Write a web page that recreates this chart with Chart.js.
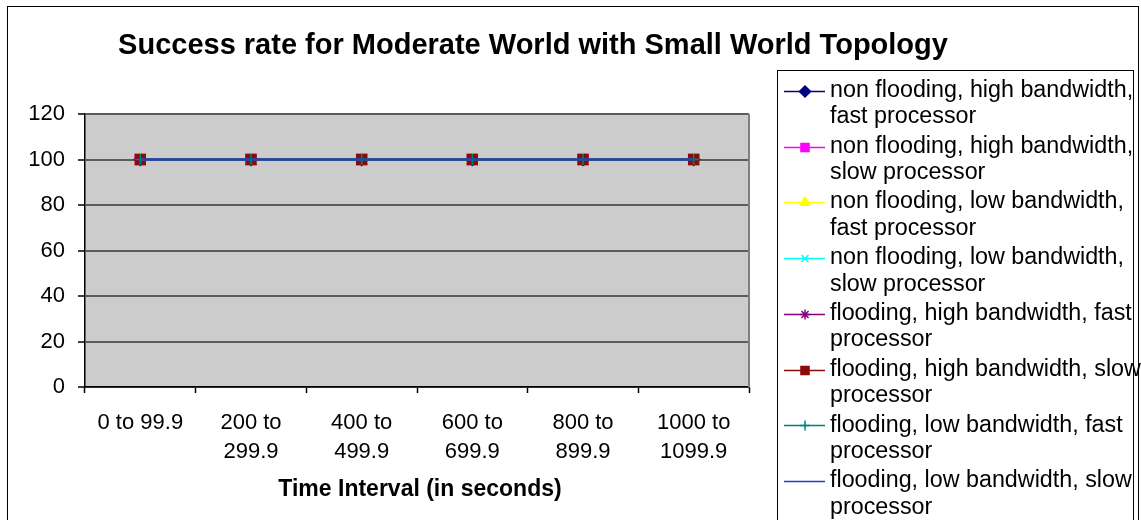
<!DOCTYPE html>
<html>
<head>
<meta charset="utf-8">
<script src="https://cdn.jsdelivr.net/npm/chart.js@4/dist/chart.umd.min.js"></script>
<style>
  html, body { margin: 0; padding: 0; background: #ffffff; }
  #c { display: block; }
</style>
</head>
<body>
<canvas id="c" width="1141" height="520"></canvas>
<script>
// Time intervals (category axis), split into display lines
const timeIntervals = [
  ["0 to 99.9"],
  ["200 to", "299.9"],
  ["400 to", "499.9"],
  ["600 to", "699.9"],
  ["800 to", "899.9"],
  ["1000 to", "1099.9"]
];

// Series names, split into the two lines shown in the legend
const seriesNames = [
  ["non flooding, high bandwidth,", "fast processor"],
  ["non flooding, high bandwidth,", "slow processor"],
  ["non flooding, low bandwidth,", "fast processor"],
  ["non flooding, low bandwidth,", "slow processor"],
  ["flooding, high bandwidth, fast", "processor"],
  ["flooding, high bandwidth, slow", "processor"],
  ["flooding, low bandwidth, fast", "processor"],
  ["flooding, low bandwidth, slow", "processor"]
];

// Success rate (%) per interval
const nonFloodHighBwFast = [100, 100, 100, 100, 100, 100];
const nonFloodHighBwSlow = [100, 100, 100, 100, 100, 100];
const nonFloodLowBwFast  = [100, 100, 100, 100, 100, 100];
const nonFloodLowBwSlow  = [100, 100, 100, 100, 100, 100];
const floodHighBwFast    = [100, 100, 100, 100, 100, 100];
const floodHighBwSlow    = [100, 100, 100, 100, 100, 100];
const floodLowBwFast     = [100, 100, 100, 100, 100, 100];
const floodLowBwSlow     = [100, 100, 100, 100, 100, 100];

// Y axis tick values
const yTicks = [0, 20, 40, 60, 80, 100, 120];

const seriesValues = [
  nonFloodHighBwFast, nonFloodHighBwSlow, nonFloodLowBwFast, nonFloodLowBwSlow,
  floodHighBwFast, floodHighBwSlow, floodLowBwFast, floodLowBwSlow
];

// line colour, marker shape, marker radius in the plot / in the legend
const seriesStyles = [
  { color: "#000080", point: "rectRot",  radius: 6,   legendRadius: 5.5, fill: "#000080" },
  { color: "#ff00ff", point: "rect",     radius: 7,   legendRadius: 5.7, fill: "#ff00ff" },
  { color: "#ffff00", point: "triangle", radius: 6,   legendRadius: 5.5, fill: "#ffff00" },
  { color: "#00ffff", point: "crossRot", radius: 5.5, legendRadius: 5,   fill: "#00ffff" },
  { color: "#800080", point: "star",     radius: 5.5, legendRadius: 5,   fill: "#800080" },
  { color: "#8b0a0a", point: "rect",     radius: 7,   legendRadius: 5.7, fill: "#8b0a0a" },
  { color: "#008080", point: "cross",    radius: 5.5, legendRadius: 5,   fill: "#008080" },
  { color: "#1f3fd0", point: false,      radius: 0,   legendRadius: 0,   fill: "#1f3fd0" }
];

const FONT = '"Liberation Sans", Arial, sans-serif';
const N = seriesValues.length;

const datasets = seriesValues.map((vals, i) => {
  const s = seriesStyles[i];
  return {
    label: seriesNames[i].join(" "),
    data: vals,
    borderColor: s.color,
    backgroundColor: s.fill,
    borderWidth: 2,
    pointStyle: s.point,
    pointRadius: s.radius,
    pointHoverRadius: s.radius,
    pointBorderColor: s.color,
    pointBackgroundColor: s.fill,
    pointBorderWidth: 1.5,
    tension: 0,
    fill: false,
    order: N - 1 - i   // later series are painted over earlier ones
  };
});

const PLOT = { left: 85, right: 749, top: 114, bottom: 387 };

const decorations = {
  id: "decorations",
  beforeDraw(chart) {
    const { ctx, chartArea: a } = chart;
    ctx.save();
    ctx.fillStyle = "#ffffff";
    ctx.fillRect(0, 0, chart.width, chart.height);
    ctx.fillStyle = "#cccccc";
    ctx.fillRect(a.left, a.top, a.right - a.left, a.bottom - a.top);
    ctx.restore();
  },
  afterDraw(chart) {
    const { ctx, chartArea: a } = chart;
    ctx.save();

    // right edge of plot area
    ctx.strokeStyle = "#808080";
    ctx.lineWidth = 2;
    ctx.beginPath();
    ctx.moveTo(a.right, a.top);
    ctx.lineTo(a.right, a.bottom);
    ctx.stroke();

    // outer frame
    ctx.strokeStyle = "#000000";
    ctx.lineWidth = 1;
    ctx.strokeRect(7.5, 6.5, 1131, 530);

    // title
    ctx.fillStyle = "#000000";
    ctx.textAlign = "center";
    ctx.textBaseline = "alphabetic";
    ctx.font = "bold 29px " + FONT;
    ctx.fillText("Success rate for Moderate World with Small World Topology", 533, 54);

    // x axis title
    ctx.font = "bold 23px " + FONT;
    ctx.fillText("Time Interval (in seconds)", (a.left + a.right) / 2 + 3, 496);

    // legend
    ctx.strokeStyle = "#000000";
    ctx.lineWidth = 1;
    ctx.strokeRect(777.5, 70.5, 356, 470);
    ctx.font = "23.3px " + FONT;
    ctx.textAlign = "left";
    chart.data.datasets.forEach((ds, i) => {
      const s = seriesStyles[i];
      const y = 90.7 + i * 55.8;
      ctx.strokeStyle = s.color;
      ctx.lineWidth = 1.5;
      ctx.beginPath();
      ctx.moveTo(784, Math.round(y) + 0.5);
      ctx.lineTo(825, Math.round(y) + 0.5);
      ctx.stroke();
      if (s.point) {
        ctx.fillStyle = s.fill;
        ctx.strokeStyle = s.color;
        ctx.lineWidth = 1.5;
        Chart.helpers.drawPoint(ctx, {
          pointStyle: s.point, radius: s.legendRadius, rotation: 0, borderWidth: 1.5
        }, 805, Math.round(y) + 0.5);
      }
      ctx.fillStyle = "#000000";
      seriesNames[i].forEach((line, k) => {
        ctx.fillText(line, 830, y + 6 + k * 26.5);
      });
    });

    ctx.restore();
  }
};

new Chart(document.getElementById("c"), {
  type: "line",
  data: { labels: timeIntervals, datasets },
  options: {
    responsive: false,
    devicePixelRatio: 1,
    animation: false,
    events: [],
    layout: { padding: { left: 0, top: PLOT.top, right: 1141 - PLOT.right, bottom: 0 } },
    plugins: {
      legend: { display: false },
      title: { display: false },
      tooltip: { enabled: false }
    },
    scales: {
      x: {
        type: "category",
        offset: true,
        afterFit(scale) { scale.height = 520 - PLOT.bottom; },
        border: { display: true, color: "#000000", width: 1.5 },
        grid: {
          offset: true,
          drawOnChartArea: false,
          drawTicks: true,
          tickLength: 6,
          tickColor: "#000000",
          tickWidth: 1.5
        },
        ticks: {
          autoSkip: false,
          maxRotation: 0,
          minRotation: 0,
          padding: 15,
          color: "#000000",
          font: { family: FONT, size: 22, lineHeight: 1.33 }
        }
      },
      y: {
        min: 0,
        max: 120,
        afterFit(scale) { scale.width = PLOT.left; },
        afterBuildTicks(scale) { scale.ticks = yTicks.map(v => ({ value: v })); },
        border: { display: true, color: "#000000", width: 1.5 },
        grid: {
          color: "#5c5c5c",
          lineWidth: 2,
          drawTicks: true,
          tickLength: 7,
          tickColor: "#000000",
          tickWidth: 1.5
        },
        ticks: {
          padding: 13,
          color: "#000000",
          font: { family: FONT, size: 22 }
        }
      }
    }
  },
  plugins: [decorations]
});
</script>
</body>
</html>
